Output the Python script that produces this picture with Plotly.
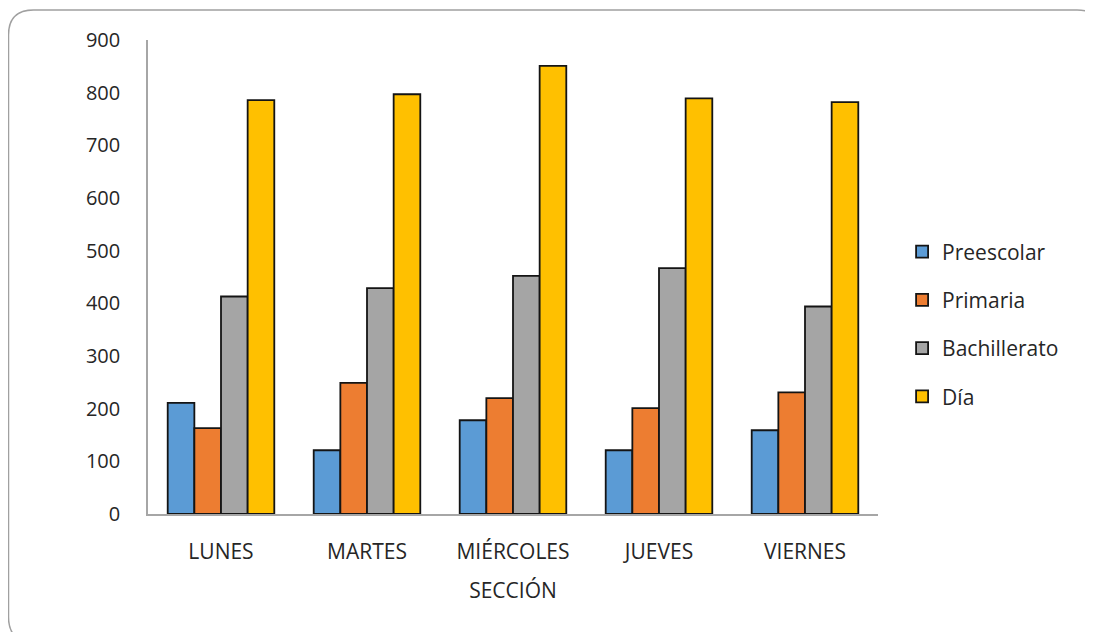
import plotly.graph_objects as go

dias = ["LUNES", "MARTES", "MIÉRCOLES", "JUEVES", "VIERNES"]
preescolar = [211, 121, 178, 121, 159]
primaria = [163, 249, 220, 201, 231]
bachillerato = [413, 429, 452, 467, 394]
dia = [786, 797, 851, 789, 782]

series = [
    ("Preescolar", preescolar, "#5B9BD5"),
    ("Primaria", primaria, "#ED7D31"),
    ("Bachillerato", bachillerato, "#A5A5A5"),
    ("Día", dia, "#FFC000"),
]

FONT = "'Open Sans', Lato, sans-serif"
TXT = "#262626"

fig = go.Figure()
for i, (name, vals, col) in enumerate(series):
    fig.add_trace(go.Bar(
        name=name, x=dias, y=vals,
        marker=dict(color=col, line=dict(color="#141414", width=1.8)),
        legendgroup=f"g{i}",
    ))

# page body has an 8px margin; work in reference pixels minus 8
OFF = 8
W, H = 1093 - OFF, 632 - OFF
L, R, T, B = 148 - OFF, 1093 - 878, 40 - OFF, 632 - 514
pw, ph = W - L - R, H - T - B

def px(x):
    return (x - OFF - L) / pw

def py(y):
    return (H - B - (y - OFF)) / ph

x0, x1, y0, y1, r = 8.5, 1102, 10, 642, 25
path = (f"M {px(x0 + r)},{py(y0)} L {px(x1 - r)},{py(y0)} "
        f"Q {px(x1)},{py(y0)} {px(x1)},{py(y0 + r)} "
        f"L {px(x1)},{py(y1 - r)} Q {px(x1)},{py(y1)} {px(x1 - r)},{py(y1)} "
        f"L {px(x0 + r)},{py(y1)} Q {px(x0)},{py(y1)} {px(x0)},{py(y1 - r)} "
        f"L {px(x0)},{py(y0 + r)} Q {px(x0)},{py(y0)} {px(x0 + r)},{py(y0)} Z")

fig.update_layout(
    width=W, height=H,
    margin=dict(l=L, r=R, t=T, b=B, autoexpand=False),
    paper_bgcolor="white", plot_bgcolor="white",
    barmode="group", bargap=0.27, bargroupgap=0,
    font=dict(family=FONT, size=20, color=TXT),
    showlegend=True,
    legend=dict(x=1.033, y=0.40, xanchor="left", yanchor="middle",
                font=dict(size=21, color=TXT),
                tracegroupgap=18, itemwidth=30),
    shapes=[dict(type="path", xref="paper", yref="paper", path=path,
                 line=dict(color="#a0a0a0", width=1.5), fillcolor="rgba(0,0,0,0)",
                 layer="below")],
    xaxis=dict(
        showline=True, linecolor="#a6a6a6", linewidth=1.5,
        ticks="", ticklabelstandoff=18, tickfont=dict(size=21, color=TXT),
        title=dict(text="SECCIÓN", font=dict(size=21, color=TXT), standoff=19),
    ),
    yaxis=dict(
        range=[0, 900], dtick=100, showgrid=False, zeroline=False,
        showline=True, linecolor="#a6a6a6", linewidth=1.5,
        ticks="", ticklabelstandoff=22, tickfont=dict(size=20, color=TXT),
    ),
)

fig.write_html("out.html")
